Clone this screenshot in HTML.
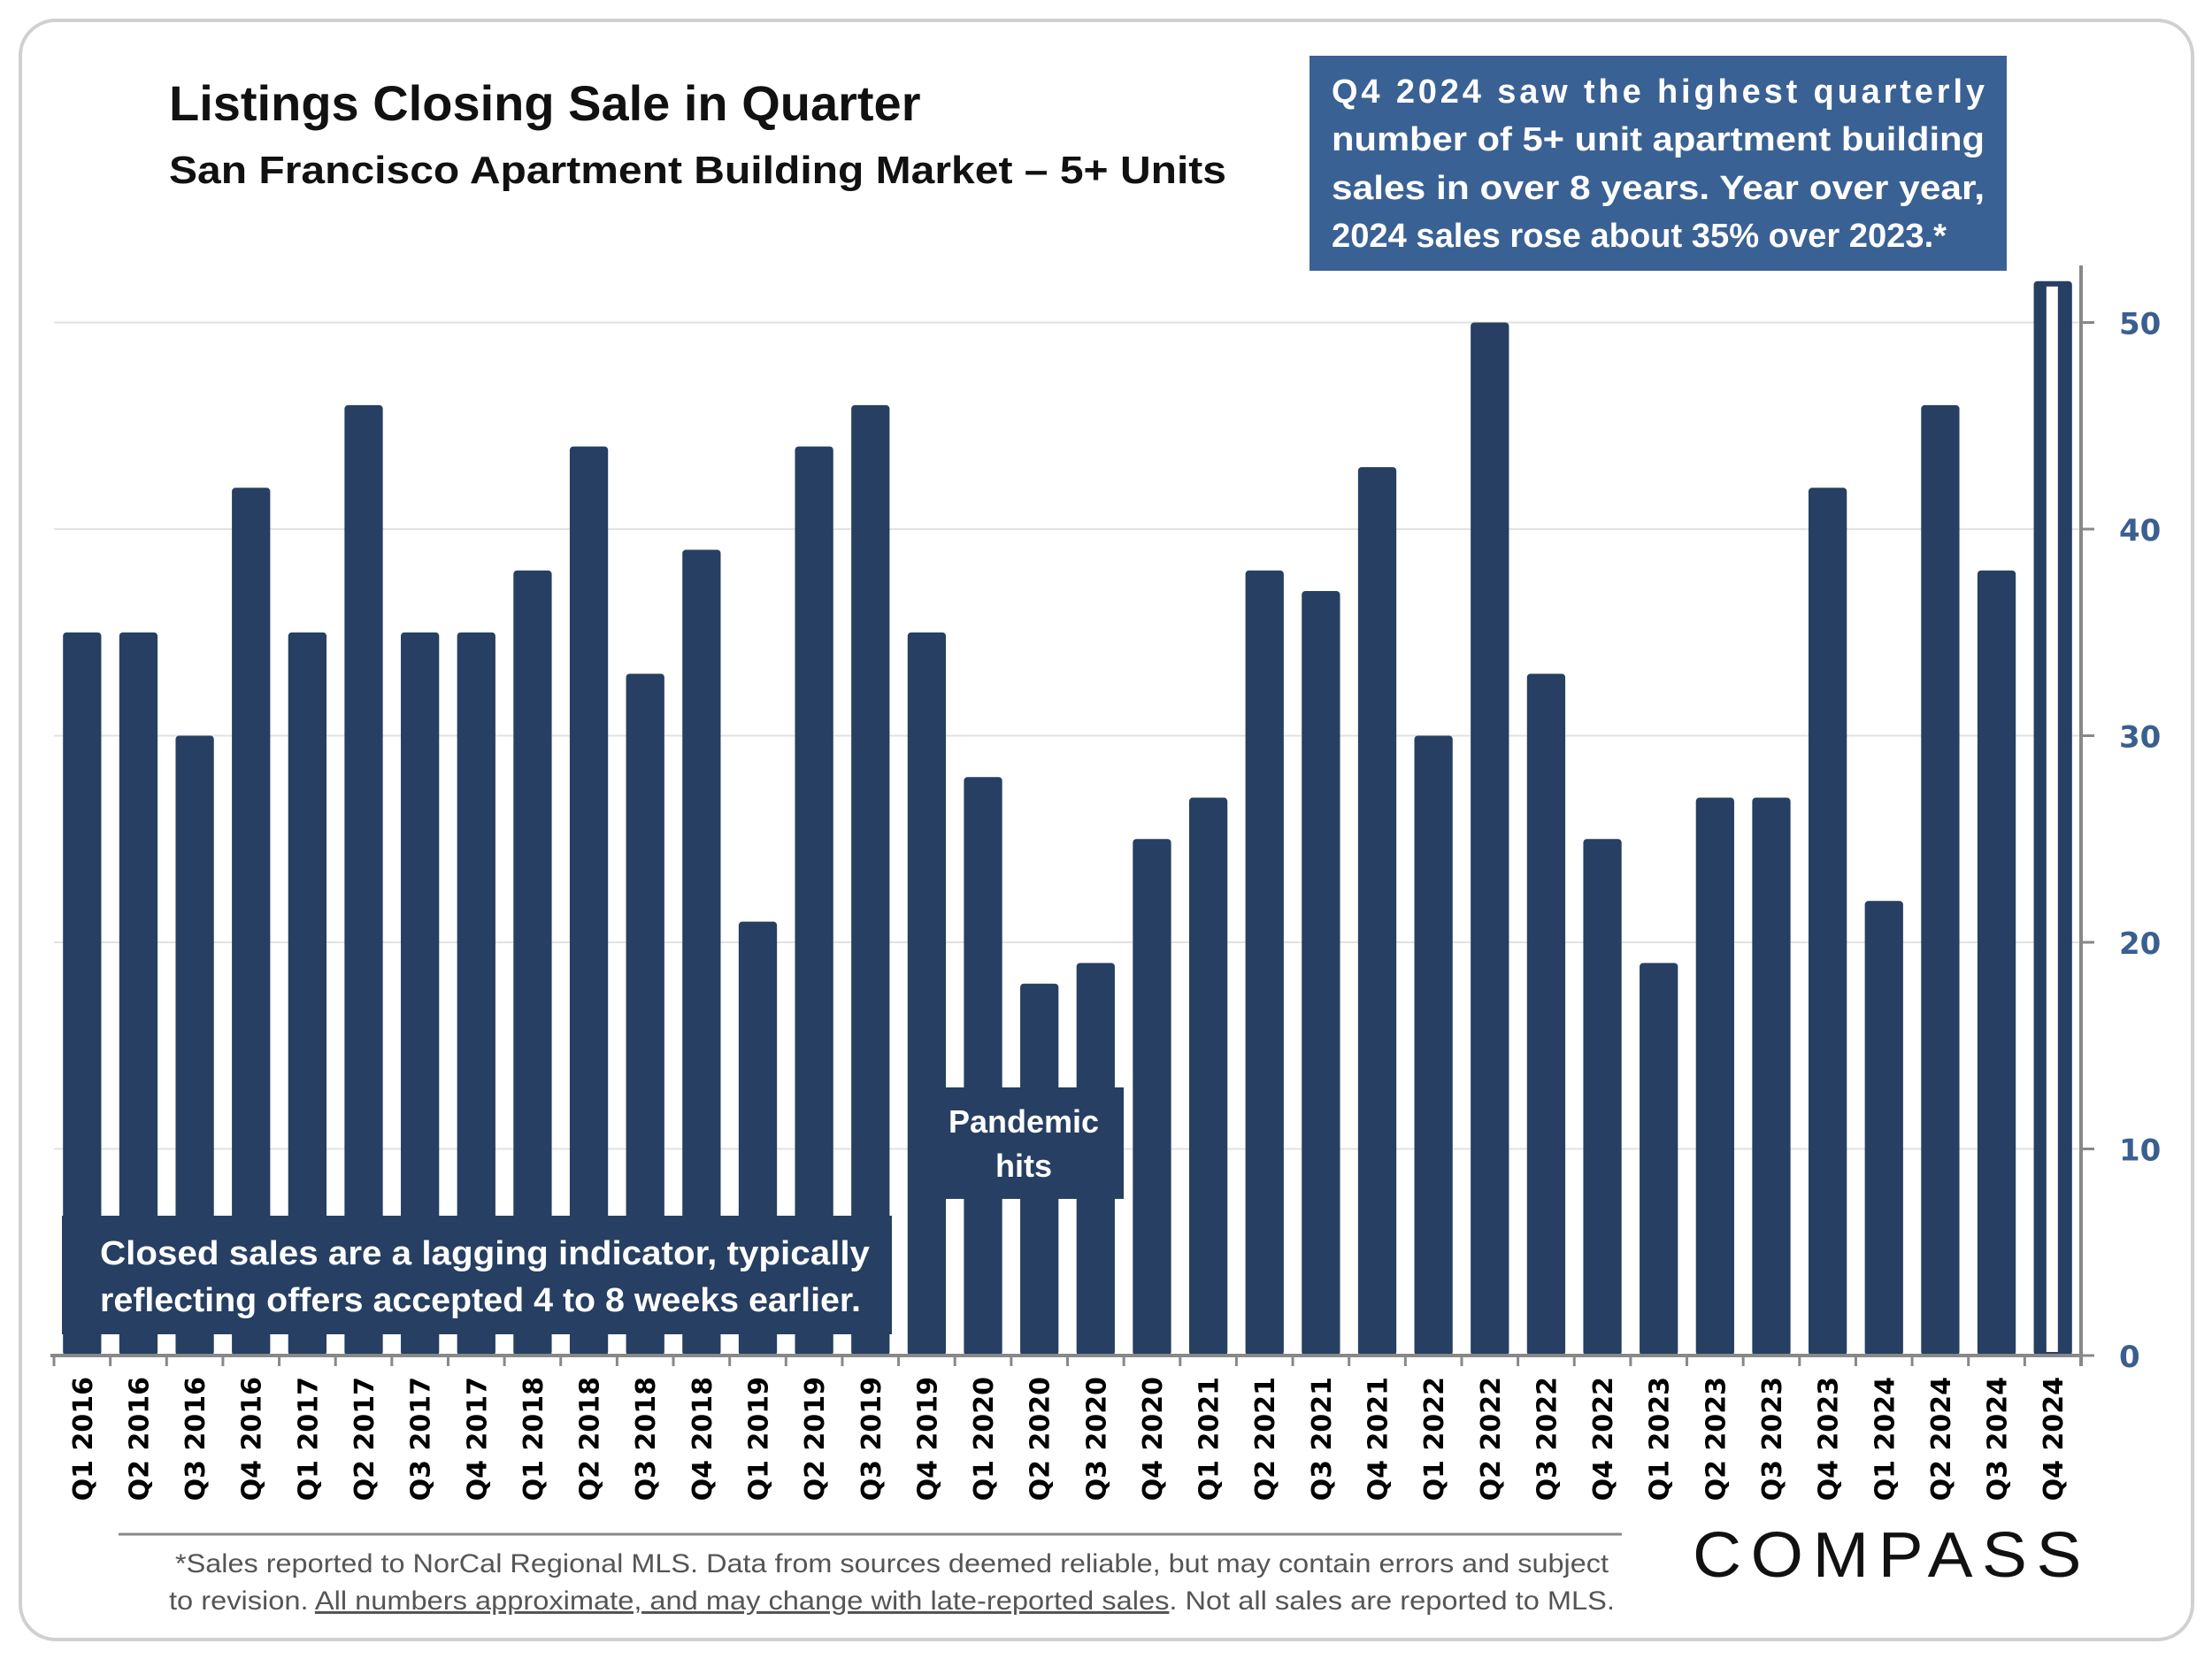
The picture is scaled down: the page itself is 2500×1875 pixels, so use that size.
<!DOCTYPE html>
<html><head><meta charset="utf-8"><style>
html,body{margin:0;padding:0;background:#fff;}
svg{display:block;}
</style></head><body>
<svg id="chart" width="2500" height="1875" viewBox="0 0 2500 1875" xmlns="http://www.w3.org/2000/svg">
<rect x="23" y="23" width="2455" height="1830" rx="40" fill="#fff" stroke="#d0d0d0" stroke-width="4"/>
<g id="grid"></g>
<g id="bars"></g>
<g id="axes"></g>
<text x="191" y="136" font-family="Liberation Sans, sans-serif" font-weight="bold" font-size="56" fill="#111">Listings Closing Sale in Quarter</text>
<text x="191" y="207" font-family="Liberation Sans, sans-serif" font-weight="bold" font-size="44" fill="#111" textLength="1195" lengthAdjust="spacingAndGlyphs">San Francisco Apartment Building Market – 5+ Units</text>
<g>
<rect x="1480" y="63" width="788" height="243" fill="#3a6194"/>
<g font-family="Liberation Sans, sans-serif" font-weight="bold" font-size="38" fill="#fff">
<text x="1505" y="116" textLength="738" lengthAdjust="spacing">Q4 2024 saw the highest quarterly</text>
<text x="1505" y="170" textLength="738" lengthAdjust="spacingAndGlyphs">number of 5+ unit apartment building</text>
<text x="1505" y="225" textLength="738" lengthAdjust="spacingAndGlyphs">sales in over 8 years. Year over year,</text>
<text x="1505" y="279" textLength="695" lengthAdjust="spacingAndGlyphs">2024 sales rose about 35% over 2023.*</text>
</g></g>
<g>
<rect x="1027" y="1229" width="243" height="126" fill="#263f62"/>
<text x="1157" y="1280" text-anchor="middle" font-family="Liberation Sans, sans-serif" font-weight="bold" font-size="36" fill="#fff">Pandemic</text>
<text x="1157" y="1330" text-anchor="middle" font-family="Liberation Sans, sans-serif" font-weight="bold" font-size="36" fill="#fff">hits</text>
</g>
<g>
<rect x="70" y="1374" width="938" height="134" fill="#263f62"/>
<text x="113" y="1429" font-family="Liberation Sans, sans-serif" font-weight="bold" font-size="38" fill="#fff" textLength="870" lengthAdjust="spacingAndGlyphs">Closed sales are a lagging indicator, typically</text>
<text x="113" y="1482" font-family="Liberation Sans, sans-serif" font-weight="bold" font-size="38" fill="#fff" textLength="860" lengthAdjust="spacingAndGlyphs">reflecting offers accepted 4 to 8 weeks earlier.</text>
</g>
<line x1="134" y1="1734" x2="1833" y2="1734" stroke="#888" stroke-width="3"/>
<text x="1008" y="1777" text-anchor="middle" font-family="Liberation Sans, sans-serif" font-size="30" fill="#555" textLength="1620" lengthAdjust="spacingAndGlyphs">*Sales reported to NorCal Regional MLS. Data from sources deemed reliable, but may contain errors and subject</text>
<text x="1008" y="1819" text-anchor="middle" font-family="Liberation Sans, sans-serif" font-size="30" fill="#555" textLength="1634" lengthAdjust="spacingAndGlyphs">to revision. <tspan text-decoration="underline">All numbers approximate, and may change with late-reported sales</tspan>. Not all sales are reported to MLS.</text>
<text x="2138" y="1782" text-anchor="middle" font-family="Liberation Sans, sans-serif" font-size="72" fill="#111" letter-spacing="10" textLength="450" lengthAdjust="spacingAndGlyphs">COMPASS</text>
</svg>
<script>
const categories = ["Q1 2016","Q2 2016","Q3 2016","Q4 2016","Q1 2017","Q2 2017","Q3 2017","Q4 2017","Q1 2018","Q2 2018","Q3 2018","Q4 2018","Q1 2019","Q2 2019","Q3 2019","Q4 2019","Q1 2020","Q2 2020","Q3 2020","Q4 2020","Q1 2021","Q2 2021","Q3 2021","Q4 2021","Q1 2022","Q2 2022","Q3 2022","Q4 2022","Q1 2023","Q2 2023","Q3 2023","Q4 2023","Q1 2024","Q2 2024","Q3 2024","Q4 2024"];
const sales = [35,35,30,42,35,46,35,35,38,44,33,39,21,44,46,35,28,18,19,25,27,38,37,43,30,50,33,25,19,27,27,42,22,46,38,52];
const yTicks = [0,10,20,30,40,50];

const NS = "http://www.w3.org/2000/svg";
const X0 = 61, X1 = 2352, Y0 = 1532, PER = 23.35;
const band = (X1 - X0) / categories.length;
const xPos = i => X0 + band * i;
const yPos = v => Y0 - v * PER;
function mk(tag, attrs, parent){ const e = document.createElementNS(NS, tag); for (const k in attrs) e.setAttribute(k, attrs[k]); parent.appendChild(e); return e; }
const grid = document.getElementById('grid'), barsG = document.getElementById('bars'), axes = document.getElementById('axes');

yTicks.forEach(t => {
  if (t > 0) {
    const g = mk('line', {x1: X0, x2: X1, y1: yPos(t), y2: yPos(t), stroke: '#e2e2e2', 'stroke-width': 2}, grid);
    
    
  }
  const tk = mk('line', {x1: X1, x2: X1 + 15, y1: yPos(t), y2: yPos(t), stroke: '#888', 'stroke-width': 3}, axes);
  
  
  const lb = mk('text', {x: 2395, y: yPos(t) + 13, 'font-family': 'DejaVu Sans, sans-serif', 'font-weight': 'bold', 'font-size': 34, fill: '#3a5f8f'}, axes);
  lb.textContent = t;
  
  
});

const bw = band * 0.68;
sales.forEach((v, i) => {
  const x = xPos(i) + (band - bw) / 2, y = yPos(v);
  const last = i === sales.length - 1;
  const b = mk('rect', {x: x, y: y, width: bw, height: Y0 - y, rx: 4, fill: '#263f62'}, barsG);
  
  
  if (last) {
    const inner = mk('rect', {x: x + bw * 0.33, y: y + 6, width: bw * 0.3, height: Y0 - y - 10, fill: '#fff'}, barsG);
    
    
  }
});

const ax = mk('line', {x1: X0 - 4, x2: X1, y1: Y0, y2: Y0, stroke: '#888', 'stroke-width': 4}, axes);


const ay = mk('line', {x1: X1, x2: X1, y1: 300, y2: Y0 + 12, stroke: '#888', 'stroke-width': 4}, axes);


for (let i = 0; i <= categories.length; i++) {
  const t = mk('line', {x1: xPos(i), x2: xPos(i), y1: Y0, y2: Y0 + 12, stroke: '#888', 'stroke-width': 3}, axes);
  
  
}
categories.forEach((c, i) => {
  const cx = xPos(i) + band / 2 + 11;
  const l = mk('text', {x: cx, y: 1556, transform: `rotate(-90 ${cx} 1556)`, 'text-anchor': 'end', 'font-family': 'DejaVu Sans, sans-serif', 'font-weight': 'bold', 'font-size': 30, fill: '#000'}, axes);
  l.textContent = c;
  
  
});
</script>
</body></html>
